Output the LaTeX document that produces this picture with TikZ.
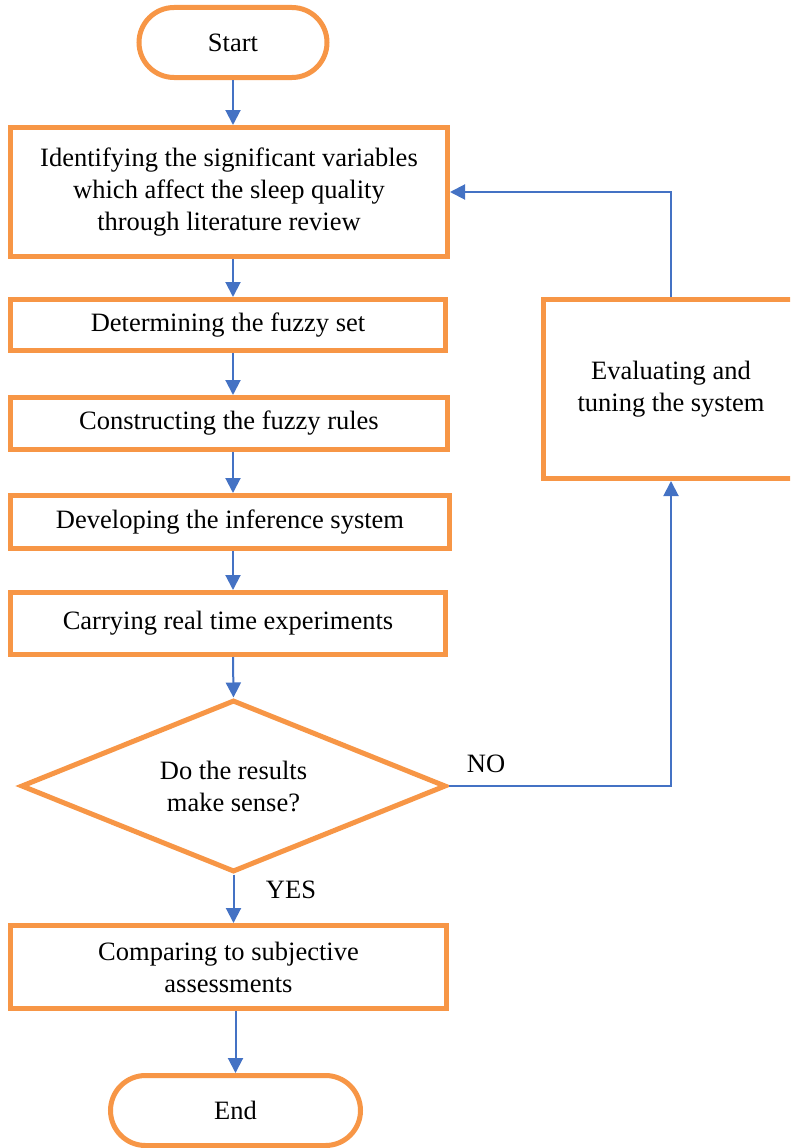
\documentclass[tikz,border=0pt]{standalone}
\usepackage{fontspec}
\setmainfont{Liberation Serif}
\usetikzlibrary{shapes.geometric,arrows.meta}

\definecolor{sleepFlowOrange}{RGB}{247,150,70}
\definecolor{sleepFlowBlue}{RGB}{68,114,196}
\tikzset{sleepFlowBox/.style={
    font=\fontsize{26.5}{32}\selectfont,
    align=center,
    draw=sleepFlowOrange,
    line width=5pt,
    fill=white,
    inner sep=0pt,
  }
}
\tikzset{sleepFlowTerminal/.style={
    sleepFlowBox,
    minimum height=70pt,
    rounded corners=35pt,
  }
}
\tikzset{sleepFlowArrow/.style={
    -{Triangle[length=15pt,width=15pt]},
    line width=2pt,
    sleepFlowBlue,
  }
}

\begin{document}
\begin{tikzpicture}[x=1pt,y=-1pt]
      \useasboundingbox (0,0) rectangle (790,1148);
      \clip (0,0) rectangle (790,1148);

      \node [sleepFlowTerminal, minimum width=188pt] (start)
      at (233, 42.5) {Start};
      \node [sleepFlowBox, minimum width=437pt, minimum height=129pt] (identify)
      at (229, 192) {Identifying the significant variables\\which affect the sleep quality\\through literature review};
      \node [sleepFlowBox, minimum width=435pt, minimum height=51pt] (fuzzyset)
      at (228, 325) {Determining the fuzzy set};
      \node [sleepFlowBox, minimum width=437pt, minimum height=52pt] (fuzzyrules)
      at (229, 423.5) {Constructing the fuzzy rules};
      \node [sleepFlowBox, minimum width=439pt, minimum height=53pt] (inference)
      at (230, 522) {Developing the inference system};
      \node [sleepFlowBox, minimum width=435pt, minimum height=62pt] (experiments)
      at (228, 623.5) {Carrying real time experiments};
      \node [sleepFlowBox, shape=diamond, aspect=2.5, minimum width=425pt, minimum height=172pt] (sense)
      at (233.5, 786) {Do the results\\make sense?};
      \node [sleepFlowBox, minimum width=436pt, minimum height=83pt] (compare)
      at (228.5, 967) {Comparing to subjective\\assessments};
      \node [sleepFlowTerminal, minimum width=250pt] (end)
      at (235.5, 1110.5) {End};
      \node [sleepFlowBox, minimum width=255pt, minimum height=179pt] (evaluate)
      at (671, 389) {Evaluating and\\tuning the system};

      \draw[sleepFlowArrow] (start.south) -- (start.south |- identify.north);
      \draw[sleepFlowArrow] (identify.south -| start) -- (fuzzyset.north -| start);
      \draw[sleepFlowArrow] (fuzzyset.south -| start) -- (fuzzyrules.north -| start);
      \draw[sleepFlowArrow] (fuzzyrules.south -| start) -- (inference.north -| start);
      \draw[sleepFlowArrow] (inference.south -| start) -- (experiments.north -| start);
      \draw[sleepFlowArrow] (experiments.south -| start) -- (sense.north);
      \draw[sleepFlowArrow] (sense.south) -- (compare.north -| sense);
      \draw[sleepFlowArrow] (compare.south -| end) -- (end.north);
      \draw[sleepFlowArrow] (sense.east) -| (evaluate.south);
      \draw[sleepFlowArrow] (evaluate.north) |- (identify.east);

      \node [font=\fontsize{26.5}{32}\selectfont] (no) at (486, 764) {NO};
      \node [font=\fontsize{26.5}{32}\selectfont] (yes) at (291, 890) {YES};
    \end{tikzpicture}
\end{document}
